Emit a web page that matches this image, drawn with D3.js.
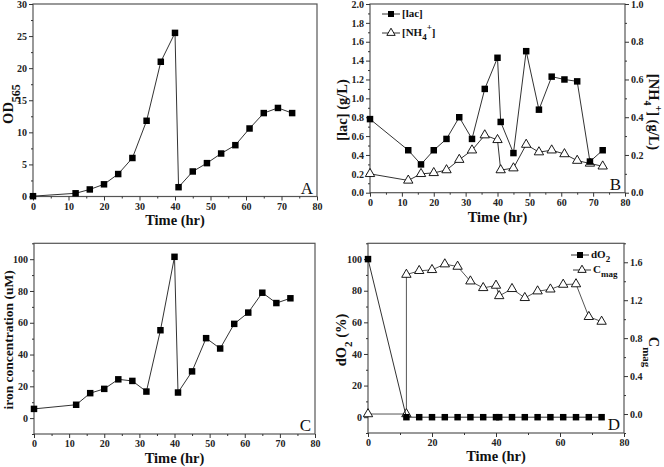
<!DOCTYPE html>
<html lang="en">
<head>
<meta charset="UTF-8">
<title>Fermentation time courses</title>
<style>
  body { margin: 0; background: #fff; }
  svg { display: block; font-family: "Liberation Serif", "Times New Roman", serif; }
  .tick text { font-family: "Liberation Serif", "Times New Roman", serif; font-size: 10px; font-weight: bold; fill: #222; }
  .tick line { stroke: #333; }
  .title { font-size: 14.5px; font-weight: bold; fill: #111; }
  .letter { font-size: 17px; fill: #111; }
  .legend { font-size: 11px; font-weight: bold; fill: #111; }
</style>
</head>
<body>
<svg id="chart" width="664" height="467"></svg>
<script src="https://d3js.org/d3.v7.min.js"></script>
<script>
// sampling times (hr)
const time = [0, 12, 16, 20, 24, 28, 32, 36, 40, 41, 45, 49, 53, 57, 61, 65, 69, 73];

// A: optical density
const od565 = [0.05, 0.5, 1.1, 1.9, 3.5, 6.0, 11.8, 21.0, 25.5, 1.45, 3.9, 5.2, 6.7, 8.0, 10.6, 13.0, 13.8, 13.0];

// B: lactate (left axis) and ammonium (right axis), g/L
const lac = [0.78, 0.45, 0.30, 0.45, 0.57, 0.80, 0.57, 1.10, 1.43, 0.75, 0.42, 1.50, 0.88, 1.23, 1.20, 1.18, 0.33, 0.45];
const nh4 = [0.10, 0.065, 0.10, 0.105, 0.12, 0.175, 0.225, 0.305, 0.28, 0.12, 0.13, 0.255, 0.215, 0.225, 0.205, 0.17, 0.155, 0.14];

// C: iron concentration (uM)
const iron = [5.8, 8.4, 15.7, 18.4, 24.4, 23.4, 16.7, 55.3, 101.5, 16.1, 29.4, 50.3, 43.8, 59.3, 66.4, 78.9, 72.4, 75.4];

// D: dissolved oxygen (%) and magnetic response
const dO2 = [100, 0, 0, 0, 0, 0, 0, 0, 0, 0, 0, 0, 0, 0, 0, 0, 0, 0];
const cmagTime = [0, 12, 12, 16, 20, 24, 28, 32, 36, 40, 41, 45, 49, 53, 57, 61, 65, 69, 73];
const cmag = [0, 0, 1.47, 1.51, 1.52, 1.58, 1.555, 1.40, 1.33, 1.355, 1.245, 1.32, 1.225, 1.295, 1.315, 1.365, 1.37, 1.025, 0.975];

const svg = d3.select("#chart");
svg.append("rect").attr("width", 664).attr("height", 467).attr("fill", "#fff");

const range = (a, b, s) => d3.range(a, b + s / 2, s).map(v => +v.toFixed(4));

// strip d3's default axis font so the serif style applies
const clean = a => a.attr("font-family", null).attr("font-size", null).select(".domain").remove();

function panel(p) {
  const x = d3.scaleLinear().domain([0, 80]).range([p.left, p.right]);
  const y = d3.scaleLinear().domain(p.yDomain).range([p.bottom, p.top]);
  const g = svg.append("g");

  // frame
  g.append("rect")
    .attr("x", p.left).attr("y", p.top)
    .attr("width", p.right - p.left).attr("height", p.bottom - p.top)
    .attr("fill", "none").attr("stroke", "#555").attr("stroke-width", 1.2);

  // bottom axis
  g.append("g").attr("transform", `translate(0,${p.bottom})`)
    .call(d3.axisBottom(x).tickValues(p.xMajor).tickSize(4).tickPadding(2).tickFormat(d3.format("d")))
    .call(clean);
  g.append("g").attr("transform", `translate(0,${p.bottom})`)
    .call(d3.axisBottom(x).tickValues(p.xMinor).tickSize(2).tickFormat(""))
    .call(clean);

  // left axis
  g.append("g").attr("transform", `translate(${p.left},0)`)
    .call(d3.axisLeft(y).tickValues(p.yMajor).tickSize(4).tickPadding(2).tickFormat(d3.format(p.yFormat)))
    .call(clean);
  g.append("g").attr("transform", `translate(${p.left},0)`)
    .call(d3.axisLeft(y).tickValues(p.yMinor).tickSize(2).tickFormat(""))
    .call(clean);

  let y2 = null;
  if (p.y2Domain) {
    y2 = d3.scaleLinear().domain(p.y2Domain).range([p.bottom, p.top]);
    g.append("g").attr("transform", `translate(${p.right},0)`)
      .call(d3.axisRight(y2).tickValues(p.y2Major).tickSize(4).tickPadding(2).tickFormat(d3.format(".1f")))
      .call(clean);
    g.append("g").attr("transform", `translate(${p.right},0)`)
      .call(d3.axisRight(y2).tickValues(p.y2Minor).tickSize(2).tickFormat(""))
      .call(clean);
  }

  // x title
  g.append("text").attr("class", "title")
    .attr("x", (p.left + p.right) / 2).attr("y", p.xTitleY)
    .attr("text-anchor", "middle").attr("dominant-baseline", "middle")
    .text("Time (hr)");

  // panel letter
  g.append("text").attr("class", "letter")
    .attr("x", p.right - 4).attr("y", p.bottom - 3)
    .attr("text-anchor", "end").text(p.letter);

  return { g, x, y, y2 };
}

function series(ctx, xs, ys, yScale, shape, stroke) {
  const pts = xs.map((t, i) => [ctx.x(t), yScale(ys[i])]);
  ctx.g.append("path")
    .attr("d", d3.line()(pts))
    .attr("fill", "none").attr("stroke", stroke || "#333").attr("stroke-width", 1);
  const sym = shape === "square" ? d3.symbolSquare : d3.symbolTriangle;
  const size = shape === "square" ? 42 : 38;
  ctx.g.selectAll(null).data(pts).enter().append("path")
    .attr("transform", d => `translate(${d[0]},${d[1]})`)
    .attr("d", d3.symbol().type(sym).size(size))
    .attr("fill", shape === "square" ? "#000" : "#fff")
    .attr("stroke", "#000").attr("stroke-width", shape === "square" ? 0 : 0.9);
}

function rotatedTitle(g, cx, cy, angle, build) {
  const t = g.append("text").attr("class", "title")
    .attr("transform", `translate(${cx},${cy}) rotate(${angle})`)
    .attr("text-anchor", "middle").attr("dominant-baseline", "middle");
  build(t);
  return t;
}

function legendRow(ctx, x0, yy, shape, build) {
  ctx.g.append("line").attr("x1", x0).attr("x2", x0 + 18).attr("y1", yy).attr("y2", yy)
    .attr("stroke", "#333");
  ctx.g.append("path")
    .attr("transform", `translate(${x0 + 9},${yy})`)
    .attr("d", d3.symbol().type(shape === "square" ? d3.symbolSquare : d3.symbolTriangle).size(shape === "square" ? 36 : 30))
    .attr("fill", shape === "square" ? "#000" : "#fff").attr("stroke", "#000")
    .attr("stroke-width", shape === "square" ? 0 : 0.9);
  const t = ctx.g.append("text").attr("class", "legend")
    .attr("x", x0 + 20).attr("y", yy).attr("dominant-baseline", "middle");
  build(t);
}

// ---- Panel A ----
const A = panel({
  left: 33, right: 317, top: 4, bottom: 196.5,
  yDomain: [0, 30], yMajor: range(0, 30, 5), yMinor: range(2.5, 27.5, 5), yFormat: "d",
  xMajor: range(0, 80, 10), xMinor: range(5, 75, 10),
  xTitleY: 222, letter: "A"
});
series(A, time, od565, A.y, "square");
rotatedTitle(A.g, 10, 104, -90, t => {
  t.append("tspan").text("OD");
  t.append("tspan").attr("baseline-shift", "sub").attr("font-size", "12px").text("565");
});

// ---- Panel B ----
const B = panel({
  left: 370, right: 625, top: 4, bottom: 192.7,
  yDomain: [0, 2], yMajor: range(0, 2, 0.2), yMinor: range(0.1, 1.9, 0.2), yFormat: ".1f",
  y2Domain: [0, 1], y2Major: range(0, 1, 0.2), y2Minor: range(0.1, 0.9, 0.2),
  xMajor: range(0, 80, 10), xMinor: range(5, 75, 10),
  xTitleY: 219, letter: "B"
});
series(B, time, nh4, B.y2, "triangle");
series(B, time, lac, B.y, "square");
rotatedTitle(B.g, 344, 110, -90, t => t.text("[lac] (g/L)"));
rotatedTitle(B.g, 652, 112, 90, t => {
  t.append("tspan").text("[NH");
  t.append("tspan").attr("baseline-shift", "sub").attr("font-size", "10px").text("4");
  t.append("tspan").attr("baseline-shift", "super").attr("font-size", "10px").text("+");
  t.append("tspan").text("] (g/L)");
});
legendRow(B, 382, 14, "square", t => t.text("[lac]"));
legendRow(B, 382, 33, "triangle", t => {
  t.append("tspan").text("[NH");
  t.append("tspan").attr("baseline-shift", "sub").attr("font-size", "9px").text("4");
  t.append("tspan").attr("baseline-shift", "super").attr("font-size", "9px").text("+");
  t.append("tspan").text("]");
});

// ---- Panel C ----
const C = panel({
  left: 34, right: 315, top: 243.3, bottom: 434,
  yDomain: [-10, 110], yMajor: range(0, 100, 20), yMinor: range(-10, 110, 20), yFormat: "d",
  xMajor: range(0, 80, 10), xMinor: range(5, 75, 10),
  xTitleY: 460, letter: "C"
});
series(C, time, iron, C.y, "square");
rotatedTitle(C.g, 10, 340, -90, t => t.text("iron concentration (uM)"))
  .style("font-size", "13.5px");

// ---- Panel D ----
const D = panel({
  left: 368, right: 624, top: 243.3, bottom: 433,
  yDomain: [-10, 110], yMajor: range(0, 100, 20), yMinor: range(-10, 110, 20), yFormat: "d",
  y2Domain: [-0.2, 1.8], y2Major: range(0, 1.6, 0.4), y2Minor: range(-0.2, 1.8, 0.4),
  xMajor: range(0, 80, 20), xMinor: range(10, 70, 20),
  xTitleY: 458, letter: "D"
});
series(D, cmagTime, cmag, D.y2, "triangle", "#555");
series(D, time, dO2, D.y, "square");
rotatedTitle(D.g, 343, 340, -90, t => {
  t.append("tspan").text("dO");
  t.append("tspan").attr("baseline-shift", "sub").attr("font-size", "11px").text("2");
  t.append("tspan").text(" (%)");
});
rotatedTitle(D.g, 652, 352, 90, t => {
  t.append("tspan").text("C");
  t.append("tspan").attr("baseline-shift", "sub").attr("font-size", "11px").text("mag");
});
legendRow(D, 571, 255, "square", t => {
  t.append("tspan").text("dO");
  t.append("tspan").attr("baseline-shift", "sub").attr("font-size", "9px").text("2");
});
legendRow(D, 573, 270, "triangle", t => {
  t.append("tspan").text("C");
  t.append("tspan").attr("baseline-shift", "sub").attr("font-size", "9px").text("mag");
});
</script>
</body>
</html>
